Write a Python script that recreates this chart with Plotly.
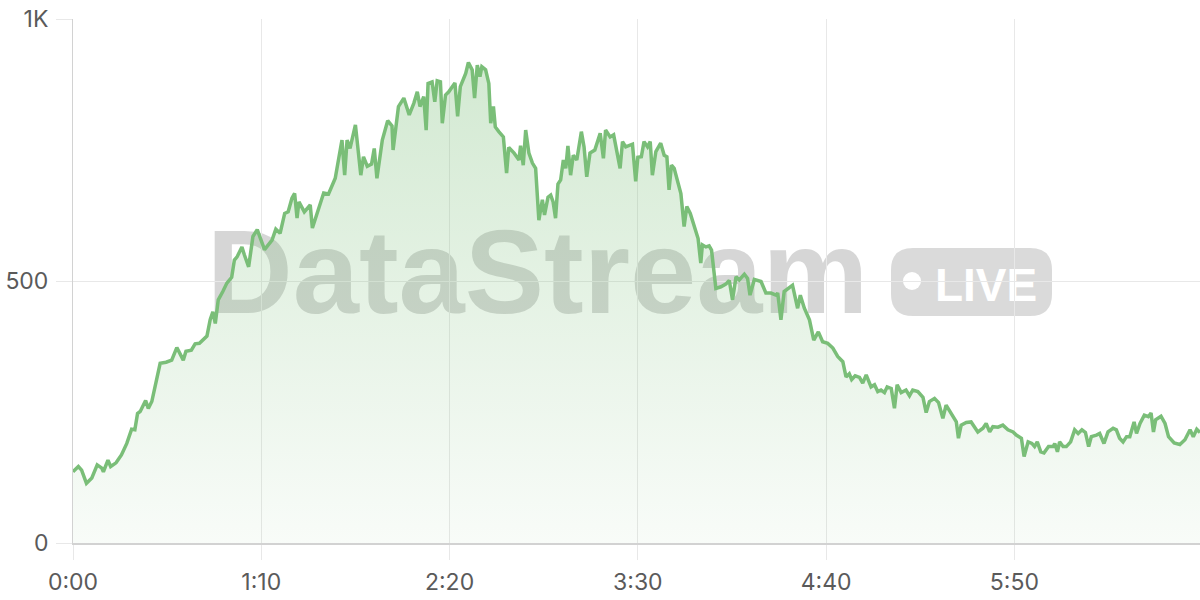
import plotly.graph_objects as go

# ---- data (time in seconds, value) ----
seconds = [
    0, 2, 3.2, 5, 7, 9, 10.7, 11.3, 13, 14, 16, 18, 20, 21.8, 23, 24, 25, 27, 28, 29.3,
    32.4, 34.6, 36.7, 38.6, 41, 42, 44, 45.4, 47, 49.8, 51, 52, 52.9, 54, 55.7, 57.2, 59, 60,
    61, 62.8, 63.7, 65.3, 66.9, 68.5,
    71.2, 74, 75.4, 77, 78.7, 80, 81.4, 82.4, 83.3, 84, 86, 88.2, 89, 90.7, 93.2, 95, 97.5,
    100, 101, 101.9, 103, 105, 107, 108, 109.4, 111, 112, 113, 115, 117, 118.6, 119, 121,
    123, 125, 126.7, 128, 129, 130.4, 131.3, 132, 133.5, 134.5, 135.4, 136.6, 137.3, 138.5,
    139.7, 141, 142, 143, 144, 146,
    147, 148.4, 149.3, 150.3, 151.3, 152, 153.4, 154.6, 155.3, 156.3, 157, 158.3, 160, 161.2,
    162, 164, 165.8, 166.4, 167.4, 168.3, 169.5, 170.8, 172, 173.2, 174.5, 175.3, 176.6,
    177.6, 178.5, 179.4, 180.3, 181.3, 182.3, 183.2, 184, 185, 186, 187.3, 189, 190, 191,
    192.2, 194, 196, 197.2, 198, 199.7, 201, 203.4, 204.3, 205.5, 208, 209.2, 210, 211.3,
    212.3, 213.6, 214.6,
    215.4, 216.7, 218.5, 219.8, 220.8, 221.6, 222.5, 223.5, 224.8, 226, 227.2, 228.2, 229.5,
    231, 232.4, 233.4, 234, 235.3, 236.5, 237.4, 239, 240.9, 242.7, 244, 245.2, 246.5, 247.7,
    249.6, 250.8, 251.7, 253.3, 255.8, 257.6, 259.5, 261.4, 262, 263.2, 264.4, 267.5, 269.4,
    270.4, 271.9, 273.8, 275.4, 277.1, 278.7, 280.6, 282.5,
    284.3, 286.2, 287.4, 288.6, 289.5, 290.8, 292.4, 293.6, 294.9, 296.7, 298, 299.2, 300.4,
    301.7, 302.7, 304.2, 305.4, 306.4, 307.9, 309.7, 311, 312.2, 314.1, 316, 317.2, 318.4,
    320.3, 321.8, 323.4, 324.6, 326.5, 328.4, 329.2, 330.2, 332.1, 333.9, 336.4, 338.3,
    339.5, 340.8, 342, 343.9, 345.7, 347.6, 349.5,
    350.7, 352.6, 353.6, 355.1, 356.5, 357.5, 358.5, 359.8, 361, 362.7, 364.4, 365, 366,
    366.8, 368.1, 369.3, 370.9, 372.4, 373.7, 375.1, 376.4, 377.6, 378.6, 380.5, 381.7,
    383.3, 384.8, 386.7, 387.9, 389.1, 390.4, 391.7, 392.9, 394.5, 395.4, 396.7, 398.3,
    399.8, 400.8, 401.7, 402.5, 404.5, 406, 407.3, 409.4, 411.5, 413.4, 415.3, 416.5,
    417.8, 419,
]
values = [
    136, 146, 139, 114, 124, 149, 143, 136, 158, 146, 153, 168, 190, 217, 216, 247, 251, 272, 257, 270,
    343, 345, 349, 373, 349, 366, 368, 380, 381, 395, 426, 441, 419, 464, 480, 496, 507, 540,
    546, 565, 550, 527, 585, 598,
    560, 578, 599, 591, 629, 632, 658, 667, 620, 651, 632, 645, 601, 629, 668, 666, 696,
    769, 702, 769, 753, 798, 702, 737, 719, 723, 753, 696, 769, 806, 796, 750, 833,
    849, 817, 839, 861, 833, 852, 788, 877, 880, 842, 882, 880, 801, 855,
    861, 871, 878, 814, 871, 896,
    917, 903, 849, 912, 890, 909, 903, 877, 801, 833, 794, 785, 775, 706,
    755, 744, 731, 758, 721, 788, 744, 725, 715, 616, 655, 626, 660,
    664, 651, 620, 685, 693, 731, 715, 758, 702, 740, 731, 785, 756, 699,
    744, 750, 782, 734, 788, 775, 779, 715, 766, 756, 761, 690, 736, 737,
    766, 756, 766,
    702, 747, 763, 740, 737, 674, 721, 715, 690, 667, 604, 642, 629,
    604, 581, 534, 569, 565, 567, 559, 486, 489, 494, 501, 464, 508, 502,
    513, 505, 473, 503, 499, 477, 477, 473, 477, 426, 480, 492, 448,
    473, 448, 426, 387, 403, 384, 381, 372,
    356, 346, 317, 323, 312, 319, 316, 305, 321, 298, 302, 289, 292,
    287, 298, 295, 257, 302, 287, 292, 281, 292, 289, 278, 249, 270,
    276, 268, 238, 263, 248, 231, 200, 225, 230, 231, 212, 219,
    228, 212, 222, 221, 225, 216, 212,
    206, 200, 165, 193, 190, 184, 193, 174, 172, 184, 184, 190, 174,
    193, 184, 184, 193, 216, 209, 216, 211, 184, 203, 206, 209,
    190, 212, 219, 216, 200, 193, 203, 203, 231, 209, 228, 244,
    241, 248, 212, 235, 242, 228, 203, 191, 188, 197, 216, 203,
    217, 211,
]
x_tick_vals = [0, 70, 140, 210, 280, 350]
x_tick_text = ["0:00", "1:10", "2:20", "3:30", "4:40", "5:50"]
y_tick_vals = [0, 500, 1000]
y_tick_text = ["0", "500", "1K"]

LINE = "rgb(122,190,120)"
GRID = "#e8e8e8"
FONT = "Liberation Sans"
TICK_FONT = "Inter"

fig = go.Figure()
fig.add_trace(go.Scatter(
    x=seconds, y=values, mode="lines",
    line=dict(color=LINE, width=3.5),
    fill="tozeroy",
    fillgradient=dict(
        type="vertical", start=0, stop=1000,
        colorscale=[[0, "rgba(122,190,120,0.05)"], [1, "rgba(122,190,120,0.36)"]],
    ),
    hoverinfo="skip",
))

# plot area in window pixels: x 73..1200, y 19..543
W, H = 1127.0, 524.0
def px(x):
    return (x - 73) / W
def py(y):
    return (543 - y) / H

shapes = []
# "DataStream" watermark
shapes.append(dict(
    type="rect", xref="paper", yref="paper",
    x0=px(200), x1=px(875), y0=py(313), y1=py(208),
    line=dict(width=0), fillcolor="rgba(0,0,0,0)", layer="below",
    label=dict(text="DataStream", textposition="middle center",
               font=dict(family=FONT, size=119, color="rgba(70,70,70,0.22)", weight="bold")),
))
# LIVE badge (rounded rect)
bx0, bx1, by0, by1 = px(891), px(1052), py(316), py(248)
rx, ry = 22 / W, 22 / H
path = (f"M {bx0+rx},{by0} L {bx1-rx},{by0} Q {bx1},{by0} {bx1},{by0+ry} "
        f"L {bx1},{by1-ry} Q {bx1},{by1} {bx1-rx},{by1} L {bx0+rx},{by1} "
        f"Q {bx0},{by1} {bx0},{by1-ry} L {bx0},{by0+ry} Q {bx0},{by0} {bx0+rx},{by0} Z")
shapes.append(dict(type="path", xref="paper", yref="paper", path=path,
                   fillcolor="rgba(70,70,70,0.20)", line=dict(width=0), layer="below"))
shapes.append(dict(type="circle", xref="paper", yref="paper",
                   x0=px(903), x1=px(921), y0=py(290), y1=py(272),
                   fillcolor="white", line=dict(width=0), layer="below"))
shapes.append(dict(
    type="rect", xref="paper", yref="paper",
    x0=px(932), x1=px(1040), y0=py(310), y1=py(252),
    line=dict(width=0), fillcolor="rgba(0,0,0,0)", layer="below",
    label=dict(text="LIVE", textposition="middle center",
               font=dict(family=FONT, size=46, color="white", weight="bold")),
))

fig.update_layout(
    width=1200, height=600,
    margin=dict(l=73, r=0, t=19, b=57, autoexpand=False),
    paper_bgcolor="white", plot_bgcolor="white",
    showlegend=False,
    shapes=shapes,
    xaxis=dict(
        range=[0, 419], tickmode="array", tickvals=x_tick_vals, ticktext=x_tick_text,
        showgrid=True, gridcolor=GRID, gridwidth=1, zeroline=False,
        showline=True, linecolor="#d2d2d2", linewidth=2,
        ticks="outside", ticklen=15, tickcolor=GRID, ticklabelstandoff=2,
        tickfont=dict(family=TICK_FONT, size=23, color="#5a5a5a"),
        ticklabeloverflow="allow", automargin=False,
    ),
    yaxis=dict(
        range=[0, 1000], tickmode="array", tickvals=y_tick_vals, ticktext=y_tick_text,
        showgrid=True, gridcolor=GRID, gridwidth=1, zeroline=False,
        showline=True, linecolor="#d2d2d2", linewidth=1,
        ticks="outside", ticklen=16, tickcolor=GRID, ticklabelstandoff=3,
        tickfont=dict(family=TICK_FONT, size=23, color="#5a5a5a"),
        ticklabeloverflow="allow", automargin=False,
    ),
)

fig.write_html(
    "out.html",
    config={"displayModeBar": False},
    post_script="document.body.style.margin='0px'; document.body.style.overflow='hidden';",
)
